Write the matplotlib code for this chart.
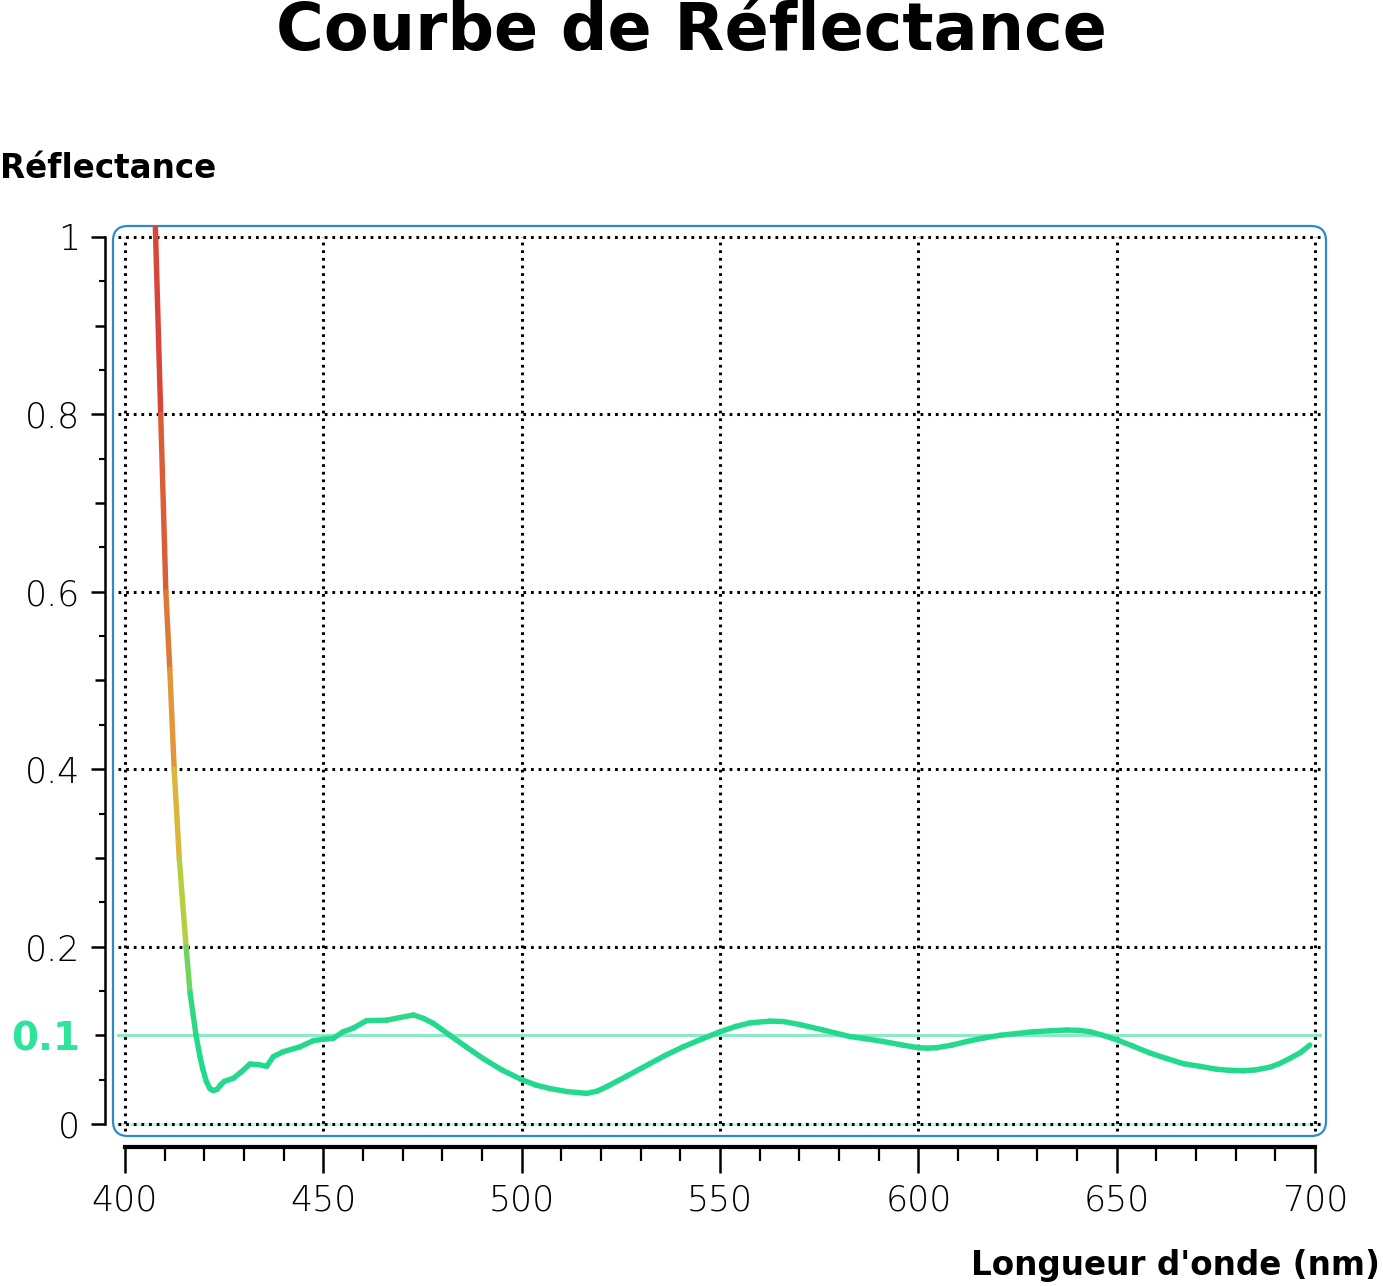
import numpy as np
import matplotlib.pyplot as plt
from matplotlib.collections import LineCollection
from matplotlib.colors import LinearSegmentedColormap, Normalize
from matplotlib.patches import FancyBboxPatch

# Courbe (longueur d'onde en nm, réflectance)
wavelength = [407.6, 409.0, 410.3, 411.3, 412.4, 413.7, 415.4, 416.4, 417.9,
              418.9, 419.6, 420.5, 421.4, 422.2, 423.2, 424.1, 425.0, 427.3,
              429.4, 431.5, 433.6, 435.7, 437.4, 439.9, 444.1, 447.5, 450.0,
              452.5, 455.0, 457.5, 460.9, 465.9, 469.3, 472.7, 475.3, 477.7,
              481.9, 486.0, 490.2, 495.0, 500.0, 503.5, 507.1, 511.5, 516.4,
              519.0, 521.4, 526.5, 532.3, 536.5, 540.7, 545.5, 550.0, 554.0,
              557.6, 562.6, 566.0, 570.2, 576.0, 582.8, 587.0, 591.2, 596.0,
              600.0, 602.3, 604.6, 608.5, 612.2, 616.5, 620.6, 629.0, 633.0,
              637.4, 640.5, 643.3, 646.5, 650.0, 654.0, 658.4, 662.5, 666.8,
              671.0, 675.2, 678.5, 681.9, 685.0, 688.6, 691.0, 693.7, 696.5,
              698.7]
reflectance = [1.02, 0.80, 0.60, 0.512, 0.40, 0.298, 0.20, 0.148, 0.10,
               0.076, 0.062, 0.048, 0.040, 0.0376, 0.039, 0.044, 0.048, 0.0515,
               0.059, 0.0676, 0.067, 0.065, 0.076, 0.0815, 0.087, 0.094, 0.0955,
               0.0966, 0.104, 0.108, 0.1166, 0.117, 0.120, 0.1229, 0.119, 0.1135,
               0.100, 0.087, 0.074, 0.061, 0.050, 0.044, 0.040, 0.0365, 0.0345,
               0.037, 0.042, 0.054, 0.068, 0.078, 0.087, 0.096, 0.104, 0.110,
               0.114, 0.116, 0.1155, 0.112, 0.106, 0.0985, 0.096, 0.093, 0.089,
               0.086, 0.0855, 0.086, 0.089, 0.093, 0.097, 0.100, 0.104, 0.105,
               0.106, 0.1055, 0.104, 0.100, 0.095, 0.088, 0.080, 0.074, 0.068,
               0.065, 0.0617, 0.0605, 0.060, 0.061, 0.064, 0.068, 0.074, 0.081,
               0.089]

x_major = [400, 450, 500, 550, 600, 650, 700]
x_minor = [410, 420, 430, 440, 460, 470, 480, 490, 510, 520, 530, 540,
           560, 570, 580, 590, 610, 620, 630, 640, 660, 670, 680, 690]
y_ticks = [0, 0.1, 0.2, 0.3, 0.4, 0.5, 0.6, 0.7, 0.8, 0.9, 1.0]
y_labels = ["0", "0.1", "0.2", "", "0.4", "", "0.6", "", "0.8", "", "1"]
y_minor = [0.05, 0.15, 0.25, 0.35, 0.45, 0.55, 0.65, 0.75, 0.85, 0.95]
y_grid = [0, 0.2, 0.4, 0.6, 0.8, 1.0]
seuil = 0.1

GREEN = "#22d98d"
W, H = 1383, 1286
plt.rcParams["font.family"] = ["DejaVu Sans"]

fig = plt.figure(figsize=(W / 100, H / 100), dpi=100)


def fx(px):
    return px / W


def fy(py):
    return 1 - py / H


XLIM = (396.975, 702.773)
YLIM = (-0.01353, 1.0124)

# ── zone de tracé (cadre bleu arrondi) ───────────────────────
ax = fig.add_axes([fx(113), fy(1136), (1326 - 113) / W, (1136 - 226) / H])
ax.set_xlim(*XLIM)
ax.set_ylim(*YLIM)
ax.axis("off")
box = FancyBboxPatch((0, 0), 1, 1, boxstyle="round,pad=0,rounding_size=0.0124",
                     mutation_aspect=1213 / 910, transform=ax.transAxes,
                     fill=False, edgecolor="#2b8bc6", lw=1.6, clip_on=False)
ax.add_patch(box)

# ligne du seuil 0.1 et de 0
ax.plot([398.2, 701.3], [seuil, seuil], color="#8eeac5", lw=2.2, zorder=1)
ax.plot([398.2, 701.3], [0, 0], color="#c8f4e2", lw=2.2, zorder=1)

# grille pointillée
for yv in y_grid:
    ax.plot([398.2, 701.3], [yv, yv], color="black", lw=2.2,
            ls=(0, (0.9, 1.6)), zorder=2)
for xv in x_major:
    ax.plot([xv, xv], [-0.008, 1.0], color="black", lw=2.2,
            ls=(0, (0.9, 1.6)), zorder=2)

# courbe en dégradé
cmap = LinearSegmentedColormap.from_list("refl", [
    (0.0, GREEN), (0.11, GREEN), (0.16, "#62d566"), (0.22, "#a6d244"),
    (0.30, "#d4c63e"), (0.42, "#e0a03a"), (0.60, "#de6e36"), (0.8, "#d84c38"),
    (1.0, "#d6413a")])
pts = np.array([wavelength, reflectance]).T.reshape(-1, 1, 2)
segs = np.concatenate([pts[:-1], pts[1:]], axis=1)
mid = (np.array(reflectance[:-1]) + np.array(reflectance[1:])) / 2
lc = LineCollection(segs, cmap=cmap, norm=Normalize(0, 1), lw=3.9,
                    capstyle="round", joinstyle="round", zorder=3)
lc.set_array(mid)
ax.add_collection(lc)

# ── axe Y ────────────────────────────────────────────────────
yax = fig.add_axes([fx(105), fy(1136), 0.0005, (1136 - 226) / H])
yax.set_ylim(*YLIM)
yax.patch.set_visible(False)
for s in ["top", "right", "bottom"]:
    yax.spines[s].set_visible(False)
yax.spines["left"].set_bounds(0, 1)
yax.spines["left"].set_linewidth(1.8)
yax.set_xticks([])
yax.set_yticks(y_ticks)
yax.set_yticklabels(y_labels, fontsize=25, fontweight="light")
yax.set_yticks(y_minor, minor=True)
yax.tick_params(axis="y", which="major", length=10, width=1.8, pad=8)
yax.tick_params(axis="y", which="minor", length=4.5, width=1.5)
for i, t in enumerate(yax.yaxis.get_major_ticks()):
    if i % 2 == 1:
        t.tick1line.set_markersize(7.5)
lab = yax.get_yticklabels()[1]
lab.set_color("#2ee39a")
lab.set_fontweight("bold")
lab.set_fontsize(28)

# ── axe X ────────────────────────────────────────────────────
xax = fig.add_axes([fx(113), fy(1147), (1326 - 113) / W, 0.0005])
xax.set_xlim(*XLIM)
xax.patch.set_visible(False)
for s in ["top", "right", "left"]:
    xax.spines[s].set_visible(False)
xax.spines["bottom"].set_bounds(400, 700)
xax.spines["bottom"].set_linewidth(3)
xax.set_yticks([])
xax.set_xticks(x_major)
xax.set_xticklabels([str(v) for v in x_major], fontsize=25, fontweight="light")
xax.set_xticks(x_minor, minor=True)
xax.tick_params(axis="x", which="major", length=18.5, width=1.8, pad=8)
xax.tick_params(axis="x", which="minor", length=10, width=1.6)

# ── textes ───────────────────────────────────────────────────
fig.text(fx(691), fy(32), "Courbe de Réflectance", ha="center", va="center",
         fontsize=47, fontweight="bold")
fig.text(fx(0), fy(168), "Réflectance", ha="left", va="center",
         fontsize=23.5, fontweight="bold")
fig.text(fx(1380), fy(1265), "Longueur d'onde (nm)", ha="right", va="center",
         fontsize=23.5, fontweight="bold")

fig.savefig("out.png", dpi=100)
